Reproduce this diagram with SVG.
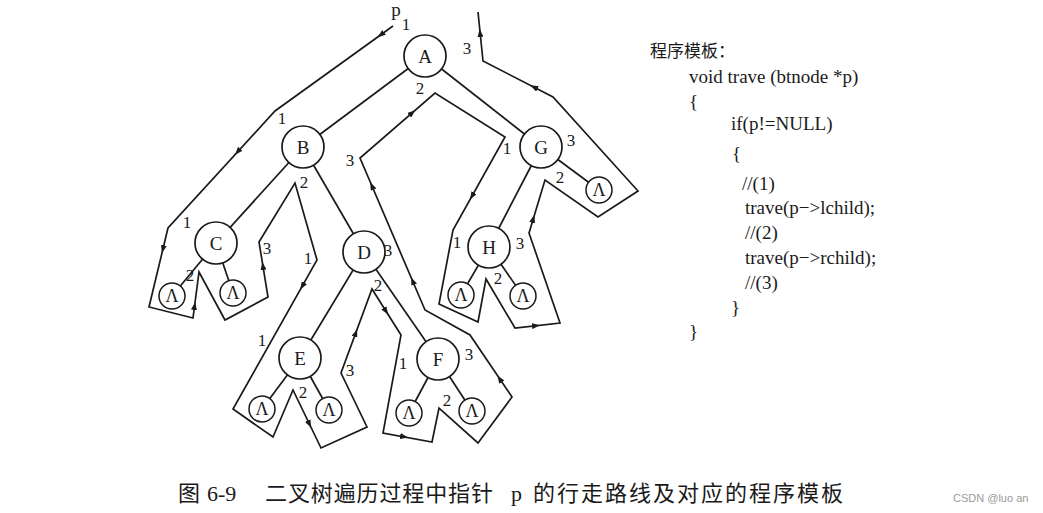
<svg xmlns="http://www.w3.org/2000/svg" width="1043" height="513" viewBox="0 0 1043 513">
<style>
.edge{stroke:#1a1a1a;stroke-width:1.7;fill:none}
.route{stroke:#1a1a1a;stroke-width:1.7;fill:none;stroke-linejoin:miter}
.arr{stroke:none;fill:none;marker-end:url(#ah)}
.node circle{fill:#fff;stroke:#1a1a1a;stroke-width:1.7}
.node text{font-family:"Liberation Serif",serif;font-size:19px;text-anchor:middle;fill:#1a1a1a}
.nil circle{fill:#fff;stroke:#1a1a1a;stroke-width:1.5}
.nil text{font-family:"Liberation Serif",serif;font-size:18px;text-anchor:middle;fill:#1a1a1a}
.num{font-family:"Liberation Serif",serif;font-size:17px;text-anchor:middle;fill:#1a1a1a}
.code{font-family:"Liberation Serif",serif;font-size:19px;fill:#1a1a1a}
.cjk{font-family:"Liberation Serif","Noto Sans CJK SC",serif;fill:#1a1a1a}
</style>
<defs>
<marker id="ah" viewBox="0 0 8 6" markerWidth="8" markerHeight="6" refX="7" refY="3" orient="auto" markerUnits="userSpaceOnUse">
<path d="M0,0 L8,3 L0,6 z" fill="#1a1a1a"/>
</marker>
</defs>
<rect width="1043" height="513" fill="#fff"/>

<g id="connectors">
<g id="tree-edges">
<line class="edge" x1="425" y1="56" x2="303" y2="147"/>
<line class="edge" x1="425" y1="56" x2="541" y2="147"/>
<line class="edge" x1="303" y1="147" x2="216" y2="243"/>
<line class="edge" x1="303" y1="147" x2="364" y2="252"/>
<line class="edge" x1="216" y1="243" x2="172" y2="296"/>
<line class="edge" x1="216" y1="243" x2="233" y2="293"/>
<line class="edge" x1="364" y1="252" x2="300" y2="358"/>
<line class="edge" x1="364" y1="252" x2="438" y2="359"/>
<line class="edge" x1="300" y1="358" x2="262" y2="409"/>
<line class="edge" x1="300" y1="358" x2="329" y2="410"/>
<line class="edge" x1="438" y1="359" x2="409" y2="413"/>
<line class="edge" x1="438" y1="359" x2="472" y2="411"/>
<line class="edge" x1="541" y1="147" x2="489" y2="247"/>
<line class="edge" x1="541" y1="147" x2="599" y2="190"/>
<line class="edge" x1="489" y1="247" x2="461" y2="295"/>
<line class="edge" x1="489" y1="247" x2="523" y2="296"/>
</g>
<polyline id="route" class="route" points="393,26 275,111 168,228 149,307 193,318 199,272 225,320 268,297 259,242 295,183 317,260 233,409 273,437 293,390 321,448 367,427 341,373 372,289 401,335 383,433 432,442 439,408 478,443 512,397 470,335 425,310 360,158 435,93 505,137 453,230 439,304 478,322 486,279 515,328 560,323 529,233 545,180 598,217 638,191 553,97 483,61 478,12"/>
<g id="route-arrows">
<path class="arr" d="M381.6,34.2 L378.4,36.6"/>
<path class="arr" d="M238.3,151.1 L235.7,154.1"/>
<path class="arr" d="M163.2,248 L162.2,252"/>
<path class="arr" d="M194.4,307 L195,303"/>
<path class="arr" d="M263.1,267 L262.5,263"/>
<path class="arr" d="M302.8,285.3 L300.8,288.7"/>
<path class="arr" d="M309,423.2 L310.8,426.8"/>
<path class="arr" d="M355.4,333.9 L356.8,330.1"/>
<path class="arr" d="M385.4,310.3 L387.6,313.7"/>
<path class="arr" d="M403,436.6 L407,437.4"/>
<path class="arr" d="M500.2,379.7 L498,376.3"/>
<path class="arr" d="M413,281.8 L411.4,278.2"/>
<path class="arr" d="M372.3,186.8 L370.7,183.2"/>
<path class="arr" d="M411.5,113.4 L414.5,110.8"/>
<path class="arr" d="M472.5,195.3 L470.5,198.7"/>
<path class="arr" d="M535,325.8 L539,325.4"/>
<path class="arr" d="M532.9,220 L534.1,216"/>
<path class="arr" d="M534.8,87.6 L531.2,85.8"/>
<path class="arr" d="M480.2,34 L479.8,30"/>
</g>
</g>

<g id="node-A" class="node"><circle cx="425" cy="56" r="21"/><text x="425" y="63">A</text></g>
<g id="node-B" class="node"><circle cx="303" cy="147" r="21"/><text x="303" y="154">B</text></g>
<g id="node-C" class="node"><circle cx="216" cy="243" r="21"/><text x="216" y="250">C</text></g>
<g id="node-D" class="node"><circle cx="364" cy="252" r="21"/><text x="364" y="259">D</text></g>
<g id="node-E" class="node"><circle cx="300" cy="358" r="21"/><text x="300" y="365">E</text></g>
<g id="node-F" class="node"><circle cx="438" cy="359" r="21"/><text x="438" y="366">F</text></g>
<g id="node-G" class="node"><circle cx="541" cy="147" r="21"/><text x="541" y="154">G</text></g>
<g id="node-H" class="node"><circle cx="489" cy="247" r="21"/><text x="489" y="254">H</text></g>

<g id="nil-C-left" class="nil"><circle cx="172" cy="296" r="13"/><text x="172" y="302">Λ</text></g>
<g id="nil-C-right" class="nil"><circle cx="233" cy="293" r="13"/><text x="233" y="299">Λ</text></g>
<g id="nil-E-left" class="nil"><circle cx="262" cy="409" r="13"/><text x="262" y="415">Λ</text></g>
<g id="nil-E-right" class="nil"><circle cx="329" cy="410" r="13"/><text x="329" y="416">Λ</text></g>
<g id="nil-F-left" class="nil"><circle cx="409" cy="413" r="13"/><text x="409" y="419">Λ</text></g>
<g id="nil-F-right" class="nil"><circle cx="472" cy="411" r="13"/><text x="472" y="417">Λ</text></g>
<g id="nil-G-right" class="nil"><circle cx="599" cy="190" r="13"/><text x="599" y="196">Λ</text></g>
<g id="nil-H-left" class="nil"><circle cx="461" cy="295" r="13"/><text x="461" y="301">Λ</text></g>
<g id="nil-H-right" class="nil"><circle cx="523" cy="296" r="13"/><text x="523" y="302">Λ</text></g>

<g id="labels">
<text class="num" x="396" y="16" style="font-size:19px">p</text>
<text class="num" x="406" y="30">1</text>
<text class="num" x="467" y="54">3</text>
<text class="num" x="420" y="94">2</text>
<text class="num" x="282" y="124">1</text>
<text class="num" x="304" y="188">2</text>
<text class="num" x="350" y="166">3</text>
<text class="num" x="507" y="154">1</text>
<text class="num" x="571" y="146">3</text>
<text class="num" x="560" y="183">2</text>
<text class="num" x="187" y="228">1</text>
<text class="num" x="190" y="281">2</text>
<text class="num" x="267" y="254">3</text>
<text class="num" x="308" y="264">1</text>
<text class="num" x="388" y="256">3</text>
<text class="num" x="378" y="291">2</text>
<text class="num" x="262" y="346">1</text>
<text class="num" x="303" y="398">2</text>
<text class="num" x="350" y="376">3</text>
<text class="num" x="403" y="369">1</text>
<text class="num" x="469" y="360">3</text>
<text class="num" x="447" y="406">2</text>
<text class="num" x="457" y="248">1</text>
<text class="num" x="520" y="249">3</text>
<text class="num" x="498" y="284">2</text>
</g>

<g id="code">
<text class="cjk" x="650" y="57" style="font-size:17px">程序模板：</text>
<text class="code" x="689" y="83">void trave (btnode *p)</text>
<text class="code" x="689" y="108">{</text>
<text class="code" x="731" y="130">if(p!=NULL)</text>
<text class="code" x="732" y="160">{</text>
<text class="code" x="742" y="190">//(1)</text>
<text class="code" x="745" y="214">trave(p−&gt;lchild);</text>
<text class="code" x="745" y="239">//(2)</text>
<text class="code" x="745" y="264">trave(p−&gt;rchild);</text>
<text class="code" x="745" y="289">//(3)</text>
<text class="code" x="731" y="314">}</text>
<text class="code" x="689" y="338">}</text>
</g>

<g id="caption" style="font-size:22px">
<text class="cjk" x="178" y="501">图</text>
<text class="cjk" x="207" y="501">6-9</text>
<text class="cjk" x="265" y="501" textLength="228" lengthAdjust="spacing">二叉树遍历过程中指针</text>
<text class="cjk" x="511" y="501">p</text>
<text class="cjk" x="533" y="501" textLength="310" lengthAdjust="spacing">的行走路线及对应的程序模板</text>
</g>
<text x="953" y="502" style="font-family:'Liberation Sans',sans-serif;font-size:11px;fill:#9a9a9a">CSDN @luo an</text>
</svg>
